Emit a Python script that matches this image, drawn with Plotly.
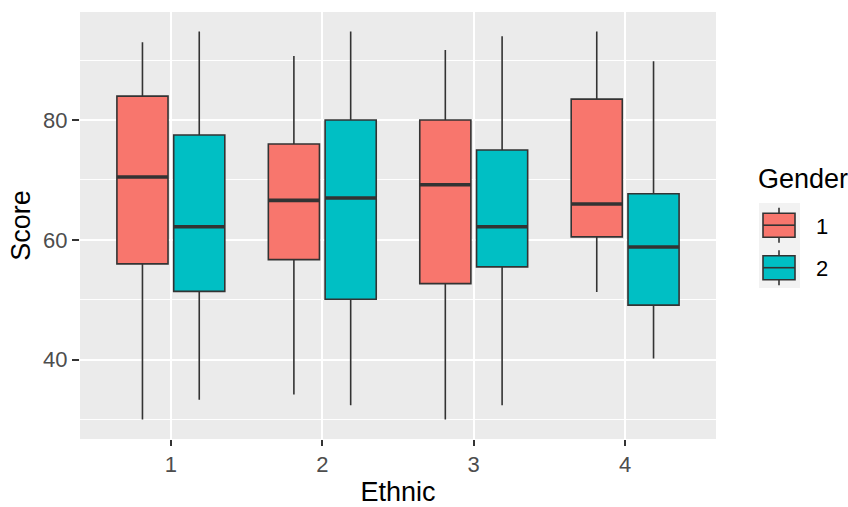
import plotly.graph_objects as go

# Score distribution by ethnic group and gender
ethnic = [1, 2, 3, 4]
genders = ["1", "2"]

g1_upper = [93.0, 90.7, 91.7, 94.8]
g1_q3 = [84.0, 76.0, 80.0, 83.5]
g1_median = [70.5, 66.6, 69.2, 66.0]
g1_q1 = [56.0, 56.7, 52.7, 60.5]
g1_lower = [30.0, 34.2, 30.0, 51.3]

g2_upper = [94.8, 94.8, 94.0, 89.8]
g2_q3 = [77.5, 80.0, 75.0, 67.7]
g2_median = [62.2, 67.0, 62.2, 58.8]
g2_q1 = [51.4, 50.1, 55.5, 49.1]
g2_lower = [33.3, 32.4, 32.4, 40.2]

colors = ["#F8766D", "#00BFC4"]
edge = "#333333"
font_family = "Liberation Sans, Arial, sans-serif"

# plot panel in pixels (848 x 507 canvas)
W, H = 848, 507
L, R, T, B = 80, 716, 12, 439


def fx(px):
    return (px - L) / (R - L)


def fy(py):
    return (B - py) / (B - T)


box_w = 0.3375
dodge = 0.1875

series = [
    (g1_lower, g1_q1, g1_median, g1_q3, g1_upper),
    (g2_lower, g2_q1, g2_median, g2_q3, g2_upper),
]

fig = go.Figure()
for gi, (lo, q1, med, q3, up) in enumerate(series):
    off = -dodge if gi == 0 else dodge
    pos = [e + off for e in ethnic]
    fig.add_trace(go.Box(
        x=pos, q1=q1, median=med, q3=q3, lowerfence=lo, upperfence=up,
        width=box_w, whiskerwidth=0, fillcolor=colors[gi],
        line=dict(color=edge, width=1.6), name=genders[gi],
        showlegend=False, hoverinfo="skip", boxpoints=False,
    ))
    # thicker median bars
    mx, my = [], []
    for p, m in zip(pos, med):
        mx += [p - box_w / 2, p + box_w / 2, None]
        my += [m, m, None]
    fig.add_trace(go.Scatter(
        x=mx, y=my, mode="lines", line=dict(color=edge, width=3.6),
        showlegend=False, hoverinfo="skip",
    ))

all_lo = min(g1_lower + g2_lower)
all_hi = max(g1_upper + g2_upper)
pad = 0.05 * (all_hi - all_lo)

fig.update_xaxes(
    range=[0.4, 4.6], tickvals=ethnic, ticktext=[str(e) for e in ethnic],
    showgrid=True, gridcolor="white", gridwidth=2, zeroline=False,
    ticks="outside", ticklen=6, tickwidth=2, tickcolor=edge,
    tickfont=dict(family=font_family, size=22, color="#4D4D4D"),
    title=dict(text="Ethnic", font=dict(family=font_family, size=27, color="black"), standoff=6),
    automargin=False,
)
fig.update_yaxes(
    range=[all_lo - pad, all_hi + pad], tickvals=[40, 60, 80],
    showgrid=True, gridcolor="white", gridwidth=2, zeroline=False,
    minor=dict(tickvals=[30, 50, 70, 90], showgrid=True, gridcolor="white", gridwidth=1, ticks=""),
    ticks="outside", ticklen=7, tickwidth=2, tickcolor=edge,
    tickfont=dict(family=font_family, size=22, color="#4D4D4D"),
    title=dict(text="Score", font=dict(family=font_family, size=27, color="black"), standoff=4),
    automargin=False,
)

# legend drawn as a ggplot-style key panel
shapes = []
annotations = []
shapes.append(dict(type="rect", xref="paper", yref="paper",
                   x0=fx(759), x1=fx(800), y0=fy(288), y1=fy(203),
                   fillcolor="#F2F2F2", line=dict(width=0), layer="below"))
key_cx = 779
for gi, cy in enumerate([225.2, 267.7]):
    shapes.append(dict(type="line", xref="paper", yref="paper",
                       x0=fx(key_cx), x1=fx(key_cx), y0=fy(cy - 17.5), y1=fy(cy + 17.5),
                       line=dict(color=edge, width=1.6)))
    shapes.append(dict(type="rect", xref="paper", yref="paper",
                       x0=fx(key_cx - 16), x1=fx(key_cx + 16), y0=fy(cy + 12), y1=fy(cy - 12),
                       fillcolor=colors[gi], line=dict(color=edge, width=1.6)))
    shapes.append(dict(type="line", xref="paper", yref="paper",
                       x0=fx(key_cx - 16), x1=fx(key_cx + 16), y0=fy(cy), y1=fy(cy),
                       line=dict(color=edge, width=1.6)))
    annotations.append(dict(xref="paper", yref="paper", x=fx(814), y=fy(cy + 1),
                            xanchor="left", yanchor="middle", showarrow=False,
                            text=genders[gi], font=dict(family=font_family, size=22, color="black")))
annotations.append(dict(xref="paper", yref="paper", x=fx(756), y=fy(179),
                        xanchor="left", yanchor="middle", showarrow=False,
                        text="Gender", font=dict(family=font_family, size=27, color="black")))

fig.update_layout(
    width=W, height=H,
    margin=dict(l=L, r=W - R, t=T, b=H - B, pad=0),
    paper_bgcolor="white", plot_bgcolor="#EBEBEB",
    boxmode="overlay", showlegend=False,
    shapes=shapes, annotations=annotations,
    font=dict(family=font_family),
)

fig.write_html("out.html")
